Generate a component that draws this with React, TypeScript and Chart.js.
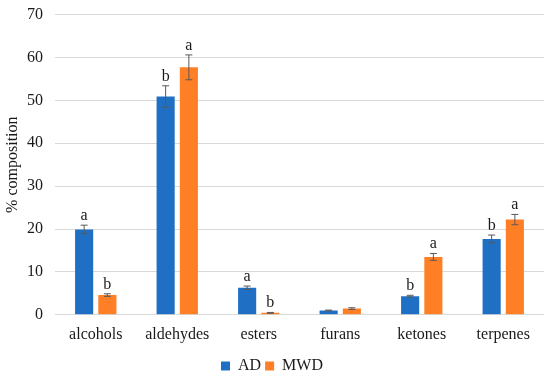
import React, { useEffect, useRef } from "react";
import { Chart, registerables } from "chart.js";

Chart.register(...registerables);

const categories = ["alcohols", "aldehydes", "esters", "furans", "ketones", "terpenes"];
const adValues = [19.9, 50.9, 6.3, 1.0, 4.35, 17.7];
const adErrors = [1.0, 2.5, 0.4, 0.1, 0.2, 0.9];
const mwdValues = [4.6, 57.7, 0.45, 1.45, 13.5, 22.2];
const mwdErrors = [0.3, 2.9, 0.1, 0.2, 0.8, 1.2];
const adLetters = ["a", "b", "a", "", "b", "b"];
const mwdLetters = ["b", "a", "b", "", "a", "a"];
const yTicks = [0, 10, 20, 30, 40, 50, 60, 70];

const FONT = "'Liberation Serif', 'DejaVu Serif', serif";
const SHIFT = 7;

const errorPlugin = {
  id: "errorBars",
  afterDatasetsDraw(chart: any) {
    const ctx = chart.ctx;
    const y = chart.scales.y;
    const errs = [adErrors, mwdErrors];
    const letters = [adLetters, mwdLetters];
    chart.data.datasets.forEach((ds: any, di: number) => {
      const meta = chart.getDatasetMeta(di);
      meta.data.forEach((el: any, i: number) => {
        const v = ds.data[i];
        const e = errs[di][i];
        const x = el.x;
        const yt = y.getPixelForValue(v + e);
        const yb = y.getPixelForValue(v - e);
        ctx.save();
        ctx.strokeStyle = "#595959";
        ctx.lineWidth = 1;
        ctx.beginPath();
        ctx.moveTo(x, yt);
        ctx.lineTo(x, yb);
        ctx.moveTo(x - 3.5, yt);
        ctx.lineTo(x + 3.5, yt);
        ctx.moveTo(x - 3.5, yb);
        ctx.lineTo(x + 3.5, yb);
        ctx.stroke();
        const letter = letters[di][i];
        if (letter) {
          ctx.fillStyle = "#1a1a1a";
          ctx.font = `16px ${FONT}`;
          ctx.textAlign = "center";
          ctx.textBaseline = "alphabetic";
          ctx.fillText(letter, x, yt - 5);
        }
        ctx.restore();
      });
    });
  },
};

export default function App() {
  const ref = useRef<HTMLCanvasElement>(null);
  useEffect(() => {
    document.body.style.margin = "0";
    const chart = new Chart(ref.current!, {
      type: "bar",
      data: {
        labels: categories,
        datasets: [
          { label: "AD", data: adValues, backgroundColor: "#1F70C4" },
          { label: "MWD", data: mwdValues, backgroundColor: "#FF7F27" },
        ],
      },
      options: {
        animation: false,
        responsive: false,
        layout: { padding: { top: 0, right: 6, bottom: -8, left: 0 } },
        datasets: {
          bar: { categoryPercentage: 0.57, barPercentage: 0.78 },
        } as any,
        plugins: {
          legend: {
            position: "bottom",
            labels: {
              boxWidth: 9,
              boxHeight: 9,
              padding: 4,
              color: "#1a1a1a",
              font: { family: FONT, size: 16 },
            },
          },
          tooltip: { enabled: false },
        },
        scales: {
          x: {
            grid: { display: false },
            border: { display: false },
            afterFit(scale: any) {
              scale.height += 8;
            },
            ticks: { color: "#1a1a1a", font: { family: FONT, size: 16 }, padding: 2 },
          },
          y: {
            min: 0,
            max: 70,
            afterBuildTicks(scale: any) {
              scale.ticks = yTicks.map((v) => ({ value: v }));
            },
            afterFit(scale: any) {
              scale.width = 55;
            },
            grid: { color: "#d9d9d9", lineWidth: 1, drawTicks: false },
            border: { display: false },
            ticks: { color: "#1a1a1a", font: { family: FONT, size: 16 }, padding: 12 },
            title: {
              display: true,
              text: "% composition",
              color: "#1a1a1a",
              font: { family: FONT, size: 16 },
              padding: { top: 3, bottom: 0 },
            },
          },
        },
      },
      plugins: [errorPlugin],
    });
    return () => chart.destroy();
  }, []);
  return (
    <div style={{ width: 550, height: 376, overflow: "hidden" }}>
      <canvas
        ref={ref}
        width={550}
        height={376 + SHIFT}
        style={{ display: "block", marginTop: -SHIFT }}
      />
    </div>
  );
}
